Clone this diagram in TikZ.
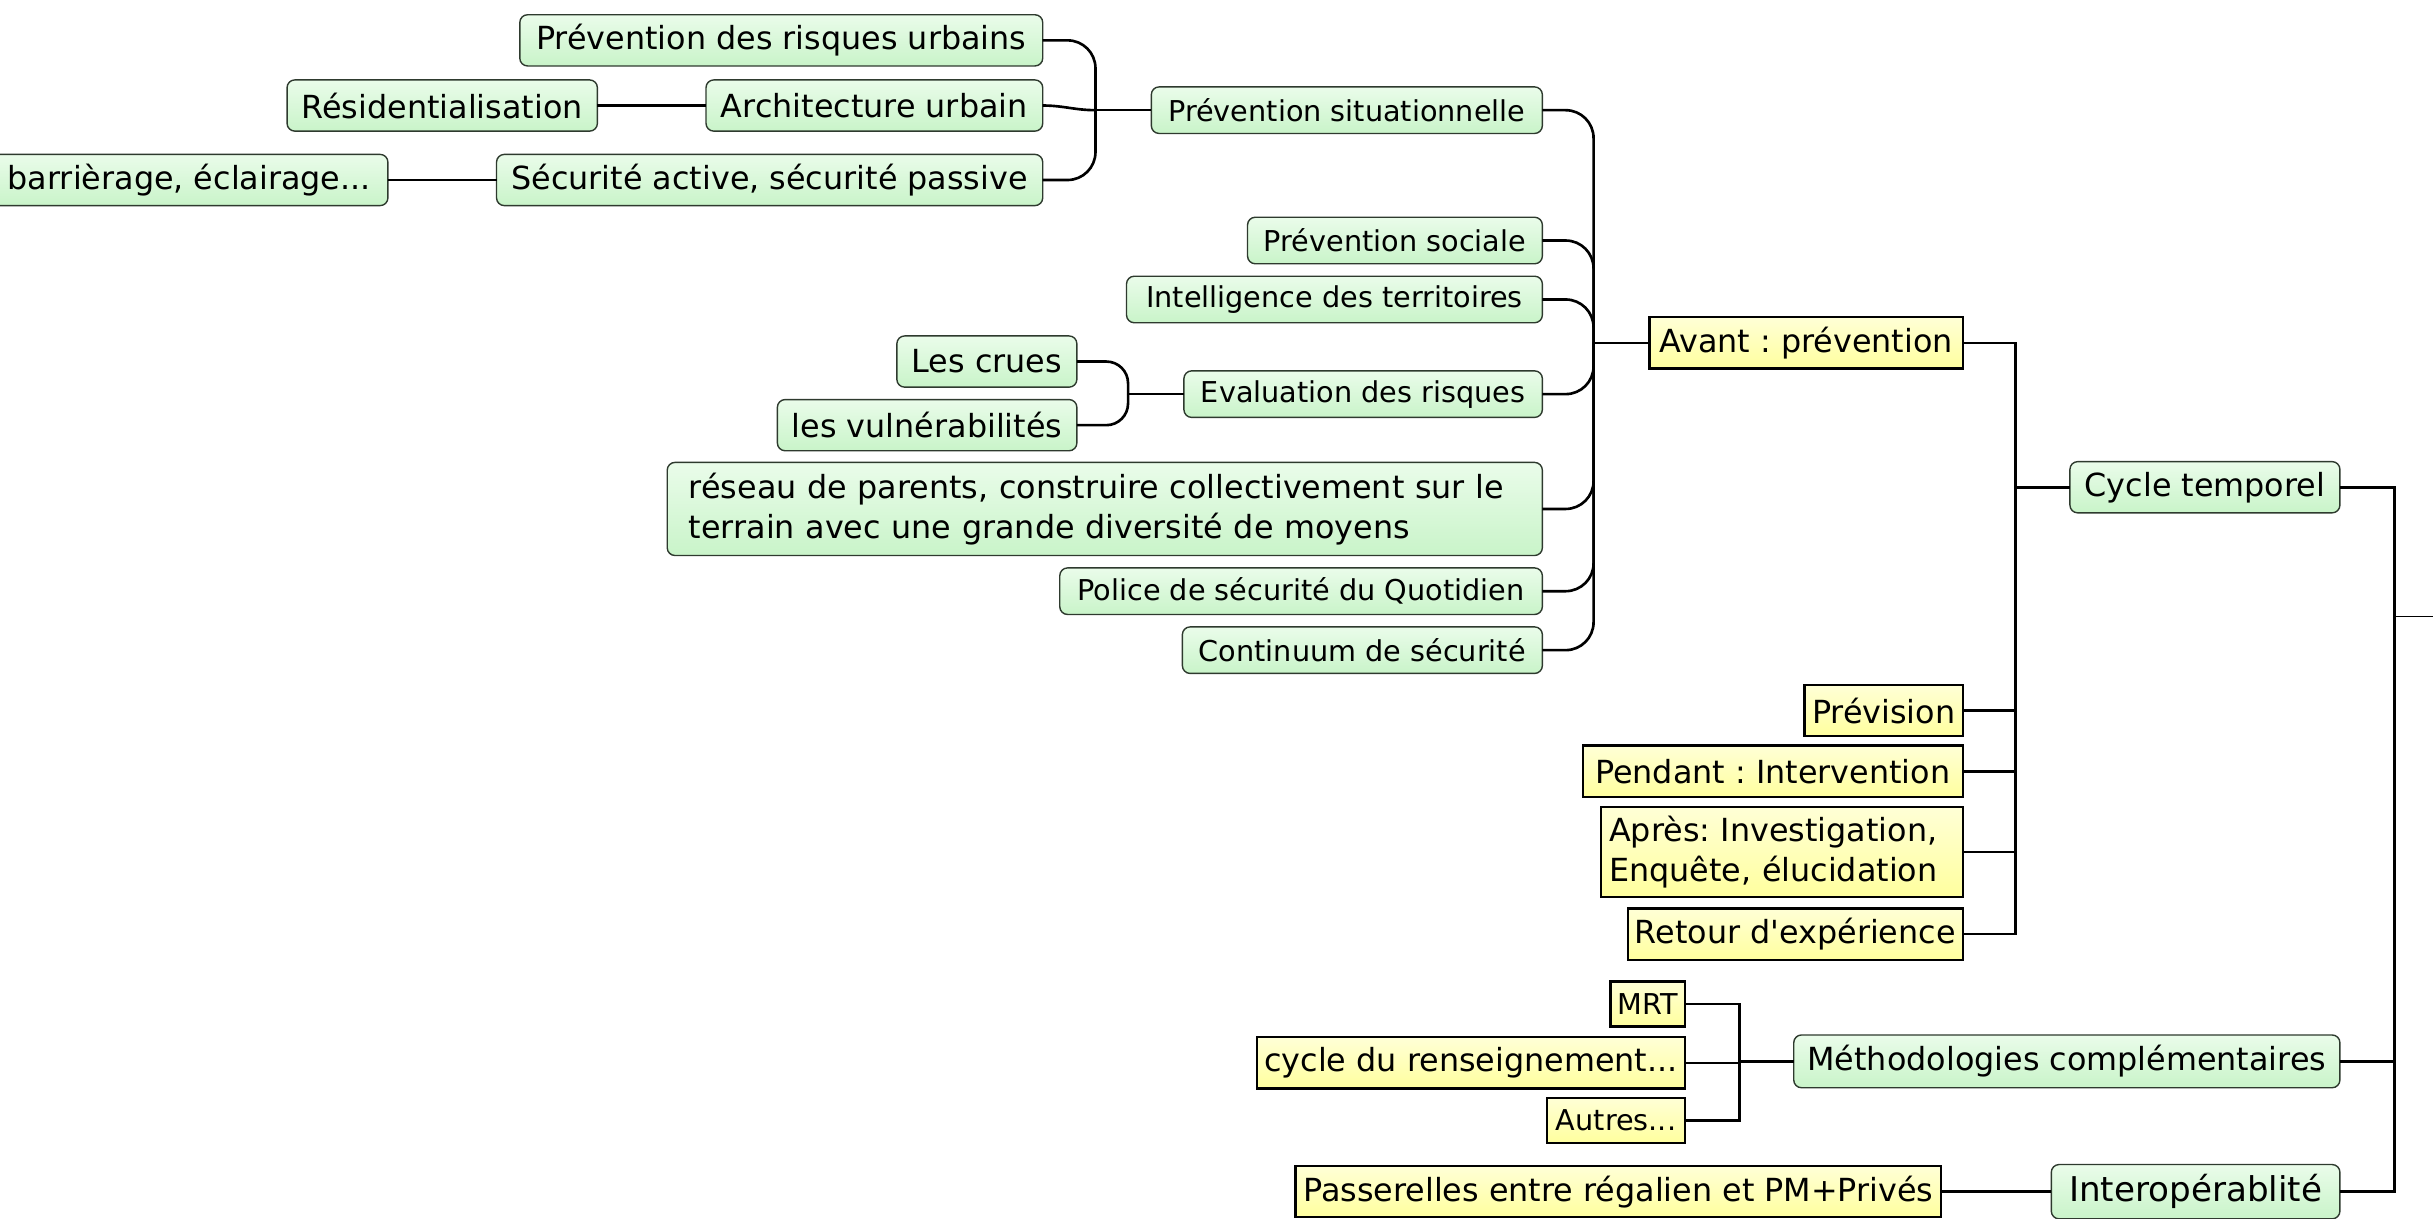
\documentclass[tikz,border=0pt]{standalone}
\usepackage{fontspec}
\setmainfont{DejaVu Sans}
\frenchspacing
\definecolor{gtop}{HTML}{EAFCEA}
\definecolor{gbot}{HTML}{C9F4C9}
\definecolor{ytop}{HTML}{FFFFD6}
\definecolor{ybot}{HTML}{FFFF9E}
\definecolor{gline}{HTML}{2E3A2E}
\tikzset{
  every node/.style={inner sep=1pt, outer sep=0pt},
  gbox/.style={draw=gline, line width=0.9pt, rounded corners=5pt, top color=gtop, bottom color=gbot, minimum height=33pt, font=\fontsize{20.5}{26}\selectfont},
  gsmall/.style={gbox, minimum height=30pt, font=\fontsize{18.5}{23}\selectfont},
  ybox/.style={draw=black, line width=1.5pt, top color=ytop, bottom color=ybot, minimum height=33pt, font=\fontsize{20.5}{26}\selectfont},
  ysmall/.style={ybox, minimum height=29pt, font=\fontsize{18.5}{23}\selectfont},
  conn/.style={line width=1.7pt, draw=black},
  curv/.style={conn, rounded corners=18pt},
  curvs/.style={conn, rounded corners=14pt},
}
\begin{document}
\begin{tikzpicture}[x=1pt, y=-1pt]
\useasboundingbox (0,0) rectangle (1568,785.6);
% green nodes
\node[gbox, minimum width=337pt] (pru) at (503.5,26) {Prévention des risques urbains};
\node[gbox, minimum width=200pt] (resi) at (285,68) {Résidentialisation};
\node[gbox, minimum width=217pt] (arch) at (563.5,68) {Architecture urbain};
\node[gbox, minimum width=256pt] (barr) at (122,116) {barrièrage, éclairage...};
\node[gbox, minimum width=352pt] (secu) at (496,116) {Sécurité active, sécurité passive};
\node[gsmall, minimum width=252pt] (sit) at (868,71) {Prévention situationnelle};
\node[gsmall, minimum width=190pt] (soc) at (899,155) {Prévention sociale};
\node[gsmall, minimum width=268pt] (intel) at (860,193) {Intelligence des territoires};
\node[gsmall, minimum width=231pt] (eva) at (878.5,254) {Evaluation des risques};
\node[gbox, minimum width=116pt] (crues) at (636,233) {Les crues};
\node[gbox, minimum width=193pt] (vul) at (597.5,274) {les vulnérabilités};
\node[gbox, minimum height=60pt, text width=536pt, inner xsep=14pt, align=left] (rese) at (712,328) {réseau de parents, construire collectivement sur le\\terrain avec une grande diversité de moyens};
\node[gsmall, minimum width=311pt] (pol) at (838.5,381) {Police de sécurité du Quotidien};
\node[gsmall, minimum width=232pt] (cont) at (878,419) {Continuum de sécurité};
\node[gbox, minimum width=174pt] (cycle) at (1421,314) {Cycle temporel};
\node[gbox, minimum width=352pt, minimum height=34pt] (meth) at (1332,684) {Méthodologies complémentaires};
\node[gbox, minimum width=186pt, minimum height=35pt, font=\fontsize{22}{26}\selectfont] (inter) at (1415,768) {Interopérablité};
% yellow nodes
\node[ybox, minimum width=202pt] (avant) at (1164,221) {Avant : prévention};
\node[ybox, minimum width=102pt] (prev) at (1214,458) {Prévision};
\node[ybox, minimum width=245pt] (pend) at (1142.5,497) {Pendant : Intervention};
\node[ybox, minimum height=58pt, text width=223pt, inner xsep=5pt, align=left] (apres) at (1148.5,549) {Après: Investigation,\\Enquête, élucidation};
\node[ybox, minimum width=216pt] (retour) at (1157,602) {Retour d\textquotesingle expérience};
\node[ysmall, minimum width=48pt] (mrt) at (1062,647) {MRT};
\node[ybox, minimum width=276pt] (cyc) at (948,685) {cycle du renseignement...};
\node[ysmall, minimum width=89pt] (autres) at (1041.5,722) {Autres...};
\node[ybox, minimum width=416pt] (pass) at (1043,768) {Passerelles entre régalien et PM+Privés};
% junction coordinates
\coordinate (jA) at (706,71);
\coordinate (jB) at (1027,221);
\coordinate (jC) at (727,254);
\coordinate (jD) at (1299,314);
\coordinate (jE) at (1121,684);
\coordinate (jR) at (1543,397);
\coordinate (root) at (1568,397);
% group A
\draw[curv] (pru.east) -| (jA);
\draw[curv] (secu.east) -| (jA);
\draw[conn] (arch.east) to[out=0,in=180] (jA);
\draw[conn] (jA) -- (sit.west);
\draw[conn] (resi.east) -- (arch.west);
\draw[conn] (barr.east) -- (secu.west);
% group B
\draw[curv] (sit.east) -| (jB);
\draw[curv] (soc.east) -| (jB);
\draw[curv] (intel.east) -| (jB);
\draw[curv] (eva.east) -| (jB);
\draw[curv] (rese.east) -| (jB);
\draw[curv] (pol.east) -| (jB);
\draw[curv] (cont.east) -| (jB);
\draw[conn] (jB) -- (avant.west);
% group C
\draw[curvs] (crues.east) -| (jC);
\draw[curvs] (vul.east) -| (jC);
\draw[conn] (jC) -- (eva.west);
% group D
\draw[conn] (avant.east) -| (jD);
\draw[conn] (prev.east) -| (jD);
\draw[conn] (pend.east) -| (jD);
\draw[conn] (apres.east) -| (jD);
\draw[conn] (retour.east) -| (jD);
\draw[conn] (jD) -- (cycle.west);
% group E
\draw[conn] (mrt.east) -| (jE);
\draw[conn] (cyc.east) -| (jE);
\draw[conn] (autres.east) -| (jE);
\draw[conn] (jE) -- (meth.west);
% interop
\draw[conn] (pass.east) -- (inter.west);
% root
\draw[conn] (cycle.east) -| (jR);
\draw[conn] (meth.east) -| (jR);
\draw[conn] (inter.east) -| (jR);
\draw[line width=0.6pt] (jR) -- (root);
\end{tikzpicture}
\end{document}
